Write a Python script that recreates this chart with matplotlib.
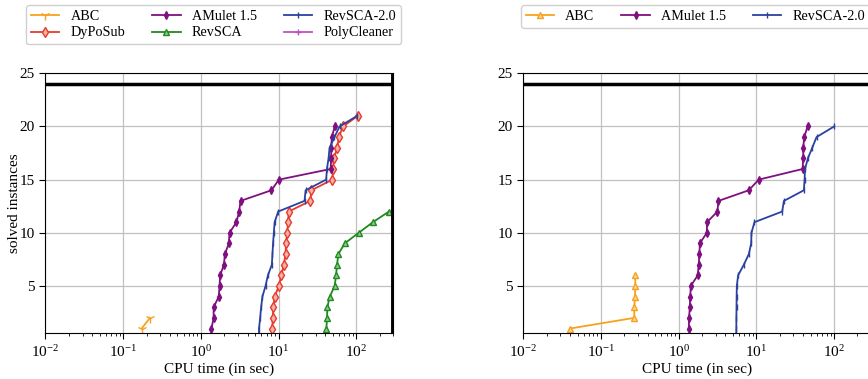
####################################
# Cactus plots of solved instances #
####################################

import numpy as np
import matplotlib
matplotlib.use('Agg')
import matplotlib.pyplot as plt

plt.rcParams['font.family'] = ['Liberation Serif', 'DejaVu Serif']
plt.rcParams['mathtext.fontset'] = 'stix'
plt.rcParams['font.size'] = 10

# -------------
# Data (CPU time in sec, sorted)
# -------------
abc_left = [0.173, 0.221]
dyposub_left = [8.3, 8.4, 8.6, 8.9, 10.1, 10.9, 11.7, 12.3, 12.5, 12.9, 13.3,
                13.5, 25.7, 26.5, 49.3, 50.2, 51.5, 57.0, 59.6, 67.6, 105.0]
amulet_left = [1.37, 1.46, 1.46, 1.70, 1.74, 1.77, 1.98, 2.04, 2.29, 2.34, 2.87,
               3.11, 3.24, 8.1, 10.1, 46.8, 47.6, 47.6, 48.6, 52.8]
revsca_left = [41.3, 42.1, 42.5, 45.6, 52.8, 55.0, 56.6, 58.9, 71.0, 107.6,
               164.0, 264.0]
revsca2_left = [5.6, 5.6, 5.8, 5.97, 6.2, 6.8, 7.3, 8.2, 8.35, 8.5, 8.7, 8.9,
                9.9, 21.6, 22.3, 41.0, 42.0, 44.0, 45.4, 52.5, 61.0, 103.0]
polycleaner_left = []

abc_right = [0.040, 0.268, 0.268, 0.274, 0.276, 0.276]
amulet_right = [1.35, 1.36, 1.39, 1.41, 1.43, 1.76, 1.81, 1.85, 1.87, 2.30,
                2.32, 3.15, 3.25, 7.99, 10.7, 39.3, 40.1, 40.1, 41.3, 45.6]
revsca2_right = [5.5, 5.52, 5.53, 5.55, 5.57, 5.6, 5.82, 6.89, 8.0, 8.57,
                 8.65, 9.45, 21.5, 22.6, 40.9, 41.7, 42.3, 46.0, 52.4, 59.5,
                 100.0]

n_bench = 24
timeout = 300

col_abc = '#f7a21e'
col_dyp = '#e63a2b'
col_amu = '#800f80'
col_rev = '#1f8a1f'
col_rev2 = '#2b41a0'
col_poly = '#c050c0'


# -------------
# Helpers
# -------------
def count(t, start=1):
  return np.arange(start, start+len(t))


def setup_axes(ax, ylabel=True):
  ax.set_xscale('log')
  ax.set_xlim(1e-2, timeout)
  ax.set_ylim(0.55, 25)
  ax.set_yticks([5, 10, 15, 20, 25])
  ax.grid(True, which='major', color='#c0c0c0', linewidth=0.9)
  ax.set_axisbelow(True)
  ax.axhline(n_bench, color='k', linewidth=2.5, zorder=5)
  ax.axvline(timeout, color='k', linewidth=2.8, zorder=5)
  ax.set_xlabel('CPU time (in sec)', labelpad=2, fontsize=11)
  if ylabel:
    ax.set_ylabel('solved instances', fontsize=11, labelpad=-1)
  ax.tick_params(axis='both', which='major', length=4, labelsize=11)
  ax.tick_params(axis='x', which='minor', length=2)


def legend(ax, xc):
  ax.legend(loc='upper center', bbox_to_anchor=(xc, 1.29), ncol=3,
            handlelength=2.0, handletextpad=0.8, columnspacing=1.9,
            fontsize=10.2, borderpad=0.35, labelspacing=0.25, framealpha=1,
            edgecolor='#d0d0d0')


fig = plt.figure(figsize=(8.68, 3.79), dpi=100)
ax1 = fig.add_axes([0.0524, 0.1206, 0.4007, 0.686])
ax2 = fig.add_axes([0.6029, 0.1206, 0.4007, 0.686])

lw = 1.3
ms = 4

# Left plot
ax1.plot(abc_left, count(abc_left), c=col_abc, marker='1', ms=7, lw=lw, label='ABC')
ax1.plot(dyposub_left, count(dyposub_left), c=col_dyp, marker='d', ms=ms+1,
         mfc='#f5b0a8', lw=lw, label='DyPoSub')
ax1.plot(amulet_left, count(amulet_left), c=col_amu, marker='d', ms=ms, lw=lw,
         label='AMulet 1.5')
ax1.plot(revsca_left, count(revsca_left), c=col_rev, marker='^', ms=ms,
         mfc='#8cc88c', lw=lw, label='RevSCA')
ax1.plot(revsca2_left, count(revsca2_left, 0), c=col_rev2, marker='|', ms=ms+1,
         lw=lw, label='RevSCA-2.0')
ax1.plot(polycleaner_left, count(polycleaner_left), c=col_poly, marker='+',
         ms=ms+1, lw=lw, label='PolyCleaner')
setup_axes(ax1)
legend(ax1, 0.483)

# Right plot
ax2.plot(abc_right, count(abc_right), c=col_abc, marker='^', ms=ms+1,
         mfc='#fbd49a', lw=lw, label='ABC')
ax2.plot(amulet_right, count(amulet_right), c=col_amu, marker='d', ms=ms, lw=lw,
         label='AMulet 1.5')
ax2.plot(revsca2_right, count(revsca2_right, 0), c=col_rev2, marker='|', ms=ms+1,
         lw=lw, label='RevSCA-2.0')
setup_axes(ax2, ylabel=False)
legend(ax2, 0.495)

fig.savefig('out.png', dpi=100)
plt.close()
